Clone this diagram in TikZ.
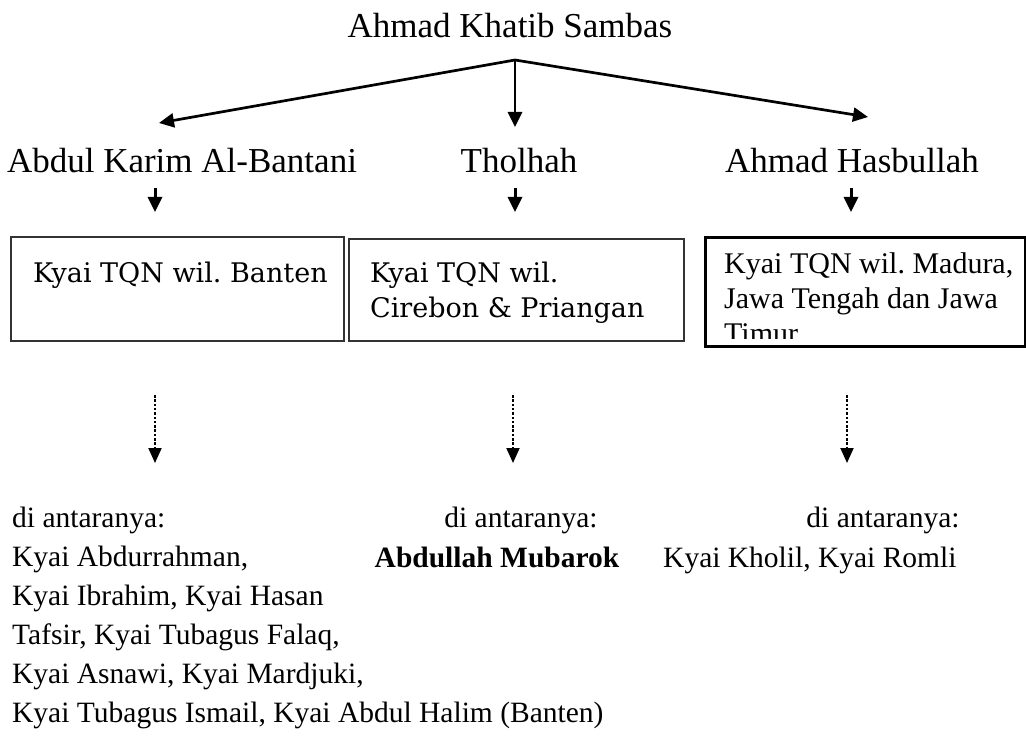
\documentclass[tikz,border=0pt]{standalone}
\usepackage{fontspec}
\setmainfont{Liberation Serif}
\newfontfamily\slabfont{DejaVu Serif}
\frenchspacing
\usepackage{tikz}
\usetikzlibrary{arrows.meta, positioning}

\begin{document}
\begin{tikzpicture}[
    x=1pt, y=-1pt,
    person/.style={inner sep=0pt, anchor=base, font=\fontsize{35}{42}\selectfont},
    members/.style={inner sep=0pt, anchor=base west, align=left, font=\fontsize{29.5}{39}\selectfont},
    box/.style={rectangle, draw=black!80, line width=2pt, anchor=north west, inner sep=0pt},
    boxtext/.style={inner sep=0pt, anchor=base west, align=left, font=\slabfont\fontsize{27}{35}\selectfont},
    arrow/.style={-{Triangle[length=15pt, width=14pt]}, line width=2.7pt},
    dotarrow/.style={-{Triangle[length=15pt, width=13pt]}, line width=2pt, dash pattern=on 2.5pt off 1.8pt}
]
    \useasboundingbox (0,0) rectangle (1026,749);

    % Guru
    \node[person] (khatib) at (510,38) {Ahmad Khatib Sambas};
    \coordinate (fork) at (515,60);

    % Murid
    \node[person] (karim) at (182,173) {Abdul Karim Al-Bantani};
    \node[person] (tholhah) at (519,173) {Tholhah};
    \node[person] (hasbullah) at (852,173) {Ahmad Hasbullah};

    \coordinate (karim-in) at (159,123);
    \coordinate (tholhah-in) at (515,127);
    \coordinate (hasbullah-in) at (868,117);
    \foreach \n in {karim, tholhah, hasbullah}
        \draw[arrow] (fork) -- (\n-in);

    \foreach \n/\x in {karim/155, tholhah/515, hasbullah/851} {
        \coordinate (\n-out) at (\x,188);
        \coordinate (\n-tip) at (\x,212);
        \draw[arrow, line width=3pt] (\n-out) -- (\n-tip);
    }

    % Wilayah
    \node[box, minimum width=333pt, minimum height=104pt] (banten) at (10,236) {};
    \node[box, minimum width=335pt, minimum height=102pt] (cirebon) at (348,238) {};
    \node[box, draw=black, line width=3pt, minimum width=320pt, minimum height=109pt] (madura) at (704,236) {};

    % base of a multi-line node = its last line
    \node[boxtext] (banten-text) at (33,282) {Kyai TQN wil. Banten};
    \node[boxtext] (cirebon-text) at (370,317) {Kyai TQN wil.\\Cirebon \& Priangan};
    \begin{scope}
        \clip (madura.north west) rectangle ([yshift=10pt]madura.south east);
        \node[inner sep=0pt, anchor=base west, align=left, font=\fontsize{30}{35}\selectfont]
            (madura-text) at (724,343) {Kyai TQN wil. Madura,\\Jawa Tengah dan Jawa\\Timur};
    \end{scope}

    \foreach \n/\x in {banten/155, cirebon/513, madura/847} {
        \coordinate (\n-from) at (\x,395);
        \coordinate (\n-to) at (\x,463);
        \draw[dotarrow] (\n-from) -- (\n-to);
    }

    % Penerus
    \node[members] (antara1) at (12,722) {di antaranya:\\Kyai Abdurrahman,\\Kyai Ibrahim, Kyai Hasan\\Tafsir, Kyai Tubagus Falaq,\\Kyai Asnawi, Kyai Mardjuki,\\Kyai Tubagus Ismail, Kyai Abdul Halim (Banten)};
    \node[members, anchor=base] (antara2) at (521,527) {di antaranya:};
    \node[members, anchor=base] (mubarok) at (497,567) {\textbf{Abdullah Mubarok}};
    \node[members, anchor=base] (antara3) at (883,527) {di antaranya:};
    \node[members] (kholil) at (663,567) {Kyai Kholil, Kyai Romli};
\end{tikzpicture}
\end{document}
